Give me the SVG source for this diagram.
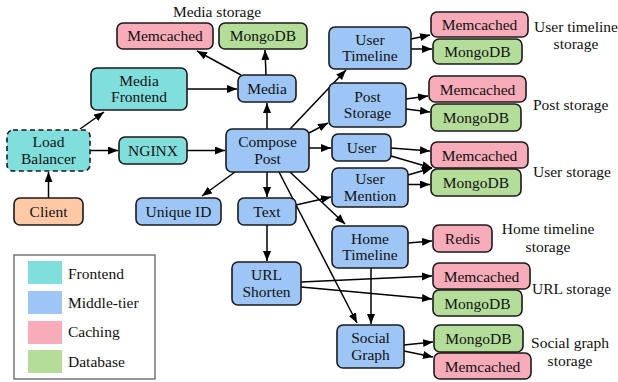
<svg xmlns="http://www.w3.org/2000/svg" width="618" height="382" viewBox="0 0 618 382">
<defs>
<marker id="ah" markerUnits="userSpaceOnUse" markerWidth="11" markerHeight="9" refX="10" refY="4" orient="auto">
<path d="M0,0 L10,4 L0,8 z" fill="#000"/>
</marker>
<style>
text{font-family:"Liberation Serif","Times New Roman",serif;font-size:15.5px;fill:#111;}
.n rect{stroke:#1a1a1a;stroke-width:1.6;}
.n text{text-anchor:middle;}
.fe{fill:#80dfdc;}
.mt{fill:#9dc6f6;}
.ca{fill:#f8abb9;}
.db{fill:#b4dd9a;}
.cl{fill:#fec9a4;}
.lb{stroke-dasharray:5,3.5;}
#edges line{stroke:#000;stroke-width:1.5;marker-end:url(#ah);}
.lab{text-anchor:middle;}
</style>
</defs>
<rect width="618" height="382" fill="#fff"/>

<g id="edges">
<line x1="48.5" y1="198" x2="48.5" y2="172"/>
<line x1="80" y1="129" x2="104" y2="112"/>
<line x1="90" y1="150.5" x2="118" y2="150.5"/>
<line x1="187" y1="150.5" x2="225" y2="150.5"/>
<line x1="187" y1="89" x2="237" y2="89"/>
<line x1="267" y1="129" x2="267" y2="103"/>
<line x1="241" y1="75" x2="197" y2="51"/>
<line x1="266" y1="75" x2="265" y2="50"/>
<line x1="290" y1="129" x2="346" y2="70"/>
<line x1="309" y1="133" x2="328" y2="123"/>
<line x1="309" y1="148" x2="331" y2="148"/>
<line x1="235" y1="172" x2="202" y2="196"/>
<line x1="267" y1="172" x2="267" y2="197"/>
<line x1="290" y1="172" x2="345" y2="224"/>
<line x1="279" y1="172" x2="357" y2="323"/>
<line x1="296" y1="205" x2="331" y2="197"/>
<line x1="267" y1="225" x2="267" y2="261"/>
<line x1="301" y1="282" x2="432" y2="276"/>
<line x1="301" y1="287" x2="432" y2="299"/>
<line x1="371" y1="268" x2="371" y2="324"/>
<line x1="408" y1="243" x2="432" y2="241"/>
<line x1="404" y1="345" x2="433" y2="342"/>
<line x1="404" y1="351" x2="433" y2="357"/>
<line x1="411" y1="39" x2="430" y2="35"/>
<line x1="411" y1="49" x2="432" y2="49"/>
<line x1="406" y1="99" x2="428" y2="96"/>
<line x1="406" y1="109" x2="430" y2="112"/>
<line x1="391" y1="148" x2="430" y2="151"/>
<line x1="391" y1="156" x2="432" y2="168"/>
<line x1="408" y1="175" x2="432" y2="168"/>
<line x1="408" y1="184.5" x2="430" y2="184.5"/>
</g>

<text class="lab" x="217" y="17">Media storage</text>
<text class="lab" x="576" y="32">User timeline</text>
<text class="lab" x="576" y="49">storage</text>
<text x="533" y="110">Post storage</text>
<text x="533" y="177">User storage</text>
<text class="lab" x="548" y="234">Home timeline</text>
<text class="lab" x="548" y="252">storage</text>
<text x="532" y="294">URL storage</text>
<text class="lab" x="570" y="348">Social graph</text>
<text class="lab" x="570" y="366">storage</text>

<g id="media-memcached" class="n"><rect class="ca" x="117" y="23" width="96" height="26" rx="6"/><text x="165" y="41">Memcached</text></g>
<g id="media-mongodb" class="n"><rect class="db" x="219" y="23" width="88" height="26" rx="6"/><text x="263" y="41">MongoDB</text></g>
<g id="media-frontend" class="n"><rect class="fe" x="91" y="68" width="96" height="42" rx="6"/><text x="139" y="85.5">Media</text><text x="139" y="102">Frontend</text></g>
<g id="media" class="n"><rect class="mt" x="238" y="75" width="58" height="27" rx="6"/><text x="267" y="94">Media</text></g>
<g id="load-balancer" class="n"><rect class="fe lb" x="7" y="130" width="83" height="41" rx="6"/><text x="48.5" y="147">Load</text><text x="48.5" y="163.5">Balancer</text></g>
<g id="nginx" class="n"><rect class="fe" x="119" y="137" width="68" height="27" rx="6"/><text x="153" y="156">NGINX</text></g>
<g id="compose-post" class="n"><rect class="mt" x="226" y="129" width="83" height="43" rx="6"/><text x="267.5" y="147">Compose</text><text x="267.5" y="163.5">Post</text></g>
<g id="client" class="n"><rect class="cl" x="14" y="198" width="69" height="27" rx="6"/><text x="48.5" y="217">Client</text></g>
<g id="unique-id" class="n"><rect class="mt" x="136" y="198" width="85" height="27" rx="6"/><text x="178.5" y="217">Unique ID</text></g>
<g id="text" class="n"><rect class="mt" x="238" y="198" width="58" height="27" rx="6"/><text x="267" y="217">Text</text></g>
<g id="url-shorten" class="n"><rect class="mt" x="232" y="262" width="69" height="43" rx="6"/><text x="266.5" y="280">URL</text><text x="266.5" y="296.5">Shorten</text></g>
<g id="user-timeline" class="n"><rect class="mt" x="329" y="27" width="82" height="42" rx="6"/><text x="370" y="44.5">User</text><text x="370" y="61">Timeline</text></g>
<g id="ut-memcached" class="n"><rect class="ca" x="431" y="12" width="97" height="25" rx="6"/><text x="479.5" y="30">Memcached</text></g>
<g id="ut-mongodb" class="n"><rect class="db" x="433" y="39" width="89" height="25" rx="6"/><text x="477.5" y="57">MongoDB</text></g>
<g id="post-storage" class="n"><rect class="mt" x="329" y="83" width="77" height="44" rx="6"/><text x="367.5" y="101.5">Post</text><text x="367.5" y="118">Storage</text></g>
<g id="ps-memcached" class="n"><rect class="ca" x="429" y="76" width="97" height="26" rx="6"/><text x="477.5" y="94.5">Memcached</text></g>
<g id="ps-mongodb" class="n"><rect class="db" x="431" y="104" width="90" height="27" rx="6"/><text x="476" y="123">MongoDB</text></g>
<g id="user" class="n"><rect class="mt" x="332" y="134" width="59" height="27" rx="6"/><text x="361.5" y="153">User</text></g>
<g id="u-memcached" class="n"><rect class="ca" x="431" y="142" width="97" height="26" rx="6"/><text x="479.5" y="160.5">Memcached</text></g>
<g id="u-mongodb" class="n"><rect class="db" x="431" y="169" width="90" height="27" rx="6"/><text x="476" y="188">MongoDB</text></g>
<g id="user-mention" class="n"><rect class="mt" x="332" y="168" width="76" height="39" rx="6"/><text x="370" y="184">User</text><text x="370" y="200.5">Mention</text></g>
<g id="home-timeline" class="n"><rect class="mt" x="332" y="226" width="76" height="42" rx="6"/><text x="370" y="243.5">Home</text><text x="370" y="260">Timeline</text></g>
<g id="redis" class="n"><rect class="ca" x="433" y="225" width="59" height="27" rx="6"/><text x="462.5" y="244">Redis</text></g>
<g id="url-memcached" class="n"><rect class="ca" x="433" y="263" width="97" height="26" rx="6"/><text x="481.5" y="281.5">Memcached</text></g>
<g id="url-mongodb" class="n"><rect class="db" x="433" y="290" width="89" height="26" rx="6"/><text x="477.5" y="308.5">MongoDB</text></g>
<g id="social-graph" class="n"><rect class="mt" x="337" y="325" width="67" height="43" rx="6"/><text x="370.5" y="343">Social</text><text x="370.5" y="359.5">Graph</text></g>
<g id="sg-mongodb" class="n"><rect class="db" x="434" y="325" width="89" height="27" rx="6"/><text x="478.5" y="344">MongoDB</text></g>
<g id="sg-memcached" class="n"><rect class="ca" x="434" y="353" width="97" height="26" rx="6"/><text x="482.5" y="371.5">Memcached</text></g>

<g id="legend">
<rect x="14" y="255" width="141" height="124" fill="#fff" stroke="#777" stroke-width="1.5"/>
<rect class="fe" x="28" y="261" width="34" height="23"/>
<rect class="mt" x="28" y="291" width="34" height="23"/>
<rect class="ca" x="28" y="321" width="34" height="23"/>
<rect class="db" x="28" y="350" width="34" height="23"/>
<text x="68" y="279">Frontend</text>
<text x="68" y="308">Middle-tier</text>
<text x="68" y="337">Caching</text>
<text x="68" y="367">Database</text>
</g>
</svg>
